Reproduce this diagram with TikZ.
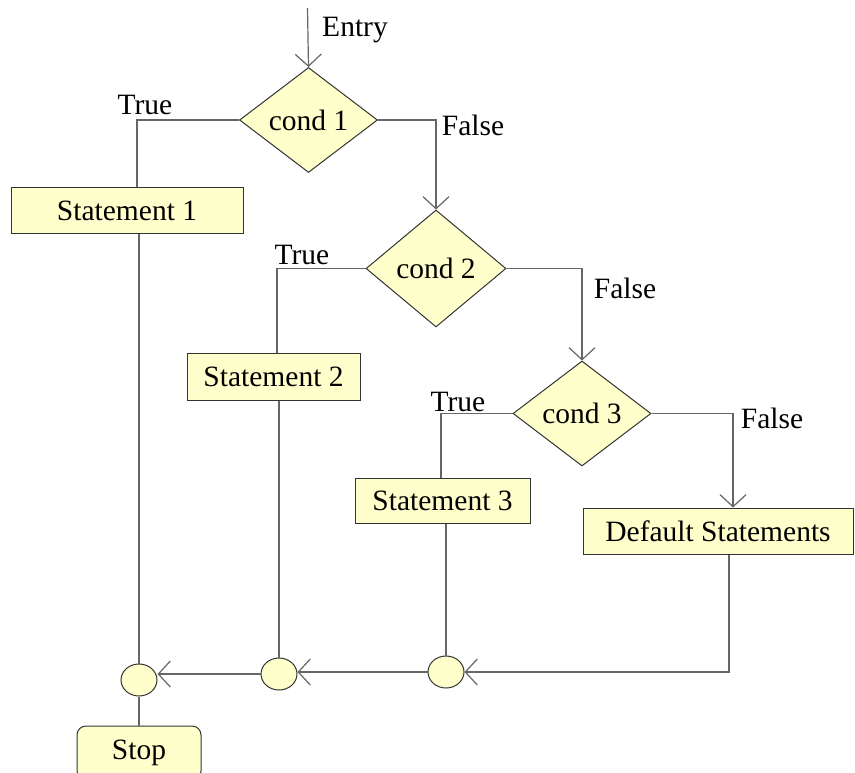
\documentclass[tikz,border=0pt]{standalone}
\usepackage{fontspec}
\setmainfont{Liberation Serif}
\usetikzlibrary{shapes.geometric,arrows.meta}
\definecolor{boxfill}{HTML}{FFFFCC}
\definecolor{edge}{HTML}{333333}
\definecolor{wire}{HTML}{666666}
\tikzset{
  txt/.style={font=\fontsize{29.5}{34}\selectfont, inner sep=0pt},
  decision/.style={txt, shape=diamond, draw=edge, fill=boxfill, line width=1pt, minimum width=138pt, minimum height=105pt, aspect=1.3},
  stmt/.style={txt, rectangle, draw=edge, fill=boxfill, line width=1pt},
  junction/.style={shape=ellipse, draw=edge, fill=boxfill, line width=1pt, minimum width=36pt, minimum height=32pt, inner sep=0pt},
  conn/.style={draw=wire, line width=1.2pt},
  flow/.style={conn, -{Straight Barb[length=12pt,width=26pt,line width=1.2pt]}},
  lbl/.style={txt}
}
\begin{document}
\begin{tikzpicture}[x=1pt,y=-1pt]
\useasboundingbox (0,0) rectangle (855,773);
% decisions
\node[decision] (c1) at (308.5,120) {cond 1};
\node[decision, minimum width=140pt, minimum height=117pt] (c2) at (436,268.5) {cond 2};
\node[decision] (c3) at (582,413.5) {cond 3};
% statements
\node[stmt, minimum width=232pt, minimum height=46pt] (s1) at (127,211) {Statement 1};
\node[stmt, minimum width=173pt, minimum height=47pt] (s2) at (273.5,376.5) {Statement 2};
\node[stmt, minimum width=175pt, minimum height=45pt] (s3) at (442.5,500.5) {Statement 3};
\node[stmt, minimum width=270pt, minimum height=46pt] (d) at (718,531) {Default Statements};
% junctions
\node[junction] (j1) at (139,680) {};
\node[junction] (j2) at (279,674) {};
\node[junction] (j3) at (446,672) {};
% stop
\node[stmt, rounded corners=9pt, minimum width=124pt, minimum height=54pt] (stop) at (139,753) {Stop};
% entry
\coordinate (entry) at (307.5,8);
\draw[flow] (entry) -- (c1.north);
% true branches
\draw[conn] (c1.west) -| ([xshift=10pt]s1.north);
\draw[conn] (c2.west) -| ([xshift=3.5pt]s2.north);
\draw[conn] (c3.west) -| ([xshift=-1.5pt]s3.north);
% false branches
\draw[flow] (c1.east) -| (c2.north);
\draw[flow] (c2.east) -| (c3.north);
\draw[flow] (c3.east) -| ([xshift=15pt]d.north);
% to junctions
\draw[conn] (s1.south -| j1.north) -- (j1.north);
\draw[conn] (s2.south -| j2.north) -- (j2.north);
\draw[conn] (s3.south -| j3.north) -- (j3.north);
\draw[flow] ([xshift=11pt]d.south) |- (j3.east);
\draw[flow] (j3.west) -- (j3.west -| j2.east);
\draw[flow] (j2.west) -- (j2.west -| j1.east);
\draw[conn] (j1.south) -- (stop.north);
% labels
\node[lbl] (lentry) at (355,30) {Entry};
\node[lbl] (lt1) at (145,105) {True};
\node[lbl] (lf1) at (473,125) {False};
\node[lbl] (lt2) at (302,255) {True};
\node[lbl] (lf2) at (625,288) {False};
\node[lbl] (lt3) at (458,402) {True};
\node[lbl] (lf3) at (772,418) {False};
\end{tikzpicture}
\end{document}
